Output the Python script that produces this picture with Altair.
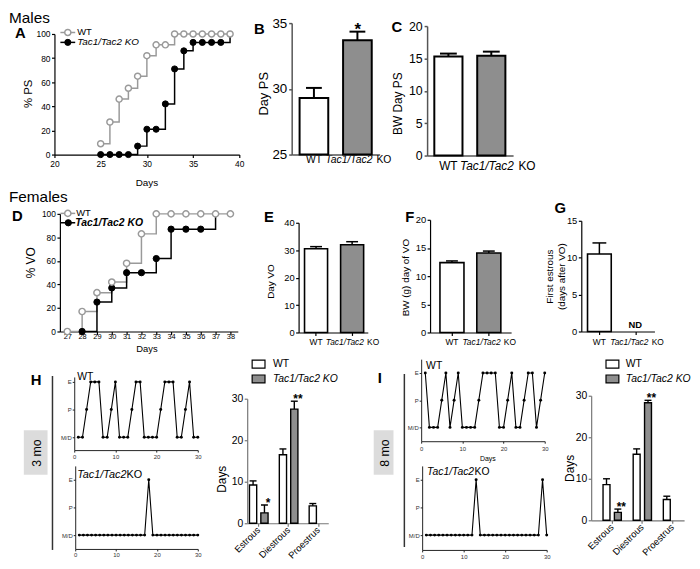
import altair as alt
import pandas as pd

W, H = 692, 561
def px(x): return x - 8
def py(y): return y - 8

FONT = "Liberation Sans"
BAR_GRAY = "#8e8e8e"
WT_LINE = "#9a9a9a"

# ---------------- data ----------------
GENO = ["WT", "KO"]
STAGES = ["Estrous", "Diestrous", "Proestrus"]
LEVEL = {"M": 0, "P": 1, "E": 2}

# A: % preputial separation (males)
A_wt_day = [25, 26, 27, 28, 29, 30, 31, 32, 33, 34, 35, 36, 37, 38, 39]
A_wt_pct = [9, 27, 46, 55, 65, 82, 91, 91, 100, 100, 100, 100, 100, 100, 100]
A_ko_day = [25, 26, 27, 28, 29, 30, 31, 32, 33, 34, 35, 36, 37, 38]
A_ko_pct = [0, 0, 0, 0, 7, 21, 21, 42, 71, 86, 93, 93, 93, 93]
A_ko_last = [39, 100]
# B, C
B_mean = [29.3, 33.7]; B_sem = [0.77, 0.65]; B_sig = ["", "*"]
C_mean = [15.3, 15.4]; C_sem = [0.45, 0.65]
# D: % vaginal opening (females)
D_wt_day = [27, 28, 29, 30, 31, 32, 33, 34, 35, 36, 37, 38]
D_wt_pct = [0, 17, 33, 42, 58, 83, 100, 100, 100, 100, 100, 100]
D_ko_day = [28, 29, 30, 31, 32, 33, 34, 35, 36]
D_ko_pct = [0, 25, 37, 50, 50, 62, 87, 87, 87]
D_ko_last = [37, 100]
# E, F, G
E_mean = [30.5, 32.0]; E_sem = [0.8, 1.1]
F_mean = [12.4, 14.1]; F_sem = [0.3, 0.35]
G_mean = [10.5]; G_sem = [1.5]; G_note = ["ND"]
# H, I: days in each stage
H_wt_mean = [9.2, 16.5, 4.2]; H_wt_sem = [1.0, 1.4, 0.55]
H_ko_mean = [2.5, 27.5]; H_ko_sem = [1.9, 1.9]; H_sig = ["*", "**"]
I_wt_mean = [8.6, 15.9, 5.0]; I_wt_sem = [1.4, 1.3, 0.8]
I_ko_mean = [1.9, 28.3]; I_ko_sem = [0.8, 0.6]; I_sig = ["**", "**"]
# representative cycles (M = metestrus/diestrus, P = proestrus, E = estrus)
H_wt_cycle = "MMPEEEMMPEMMMPEEMMMMPEEEMMPEMM"
H_ko_cycle = "MMMMMMMMMMMMMMMMMEMMMMMMMMMMMM"
I_wt_cycle = "EMMMPEMPEMMMMPEEEEMMPEMMPEEMPE"
I_ko_cycle = "MMMMMMMMMMMMEMMMMMMMMMMMMMMMEM"

FILL_SCALE = alt.Scale(domain=GENO, range=["white", BAR_GRAY])

# ---------------- helpers ----------------
def yax(pos, values=None, title=None, tx=0, ty=0, lsize=9, tsize=11, tick=4, pad=1,
        dw=1.2, color="black", lcolor="black", label_expr=None):
    kw = dict(orient="left", offset=-px(pos), grid=False, domainColor=color, domainWidth=dw,
              tickColor=color, tickWidth=dw, tickSize=tick, labelFont=FONT, labelFontSize=lsize,
              labelColor=lcolor, labelPadding=pad, labelFlush=False, labelOverlap=False)
    if values is not None:
        kw["values"] = values
    if label_expr:
        kw["labelExpr"] = label_expr
    if title:
        kw.update(title=title, titleFont=FONT, titleFontSize=tsize, titleFontWeight="normal",
                  titleColor="black", titleAngle=270, titleAlign="center", titleBaseline="middle",
                  titleX=tx - pos, titleY=py(ty))
    else:
        kw["title"] = None
    return alt.Axis(**kw)

def xax(pos, values=None, title=None, tx=0, ty=0, lsize=9, tsize=10, tick=3, pad=2,
        dw=1.2, color="black", lcolor="black", ticks=True, domain=True, **extra):
    kw = dict(orient="bottom", offset=py(pos) - H, grid=False, domain=domain, domainColor=color,
              domainWidth=dw, ticks=ticks, tickColor=color, tickWidth=dw, tickSize=tick,
              labelFont=FONT, labelFontSize=lsize, labelColor=lcolor, labelPadding=pad,
              labelFlush=False, labelOverlap=False, labelBaseline="middle", labelAngle=0)
    if values is not None:
        kw["values"] = values
    if title:
        kw.update(title=title, titleFont=FONT, titleFontSize=tsize, titleFontWeight="normal",
                  titleColor="black", titleAlign="center", titleBaseline="middle",
                  titleX=px(tx), titleY=ty - pos)
    else:
        kw["title"] = None
    kw.update(extra)
    return alt.Axis(**kw)

def qs(dom, r0, r1, vertical=False):
    f = py if vertical else px
    return alt.Scale(domain=dom, range=[f(r0), f(r1)], nice=False, zero=False)

def band(cats, axis_x, first_start, step, bw, end):
    p = 1 - bw / step
    n = len(cats)
    left = first_start - axis_x
    right = end - (first_start + step * (n - 1) + bw)
    o = (left + right) / (2 * step)
    al = left / (left + right) if (left + right) > 0 else 0.5
    return alt.Scale(domain=cats, range=[px(axis_x), px(end)], paddingInner=p,
                     paddingOuter=o, align=al)

ONE = pd.DataFrame({"k": [0]})

def label(txt, x, y, size=10, weight="normal", style="normal", angle=0, align="left",
          baseline="alphabetic", color="black"):
    return alt.Chart(ONE).mark_text(text=txt, font=FONT, fontSize=size, fontWeight=weight,
                                    fontStyle=style, angle=angle, align=align,
                                    baseline=baseline, color=color).encode(
        x=alt.value(px(x)), y=alt.value(py(y)))

def seg(x1, y1, x2, y2, color="black", width=1.5):
    return alt.Chart(ONE).mark_rule(color=color, strokeWidth=width).encode(
        x=alt.value(px(x1)), y=alt.value(py(y1)), x2=alt.value(px(x2)), y2=alt.value(py(y2)))

def dot(x, y, size, fill, stroke, sw=1.5):
    return alt.Chart(ONE).mark_point(shape="circle", filled=True, fill=fill, stroke=stroke,
                                     strokeWidth=sw, size=size, opacity=1).encode(
        x=alt.value(px(x)), y=alt.value(py(y)))

def box(x1, y1, x2, y2, fill, stroke="black", sw=1.2):
    return alt.Chart(ONE).mark_rect(fill=fill, stroke=stroke, strokeWidth=sw).encode(
        x=alt.value(px(x1)), y=alt.value(py(y1)), x2=alt.value(px(x2)), y2=alt.value(py(y2)))

def step_panel(wt_day, wt_pct, ko_day, ko_pct, ko_last, xs, ys, xa, ya, msize):
    wt = pd.DataFrame({"day": wt_day, "pct": wt_pct})
    ko = pd.DataFrame({"day": ko_day, "pct": ko_pct})
    ko_line = pd.concat([ko, pd.DataFrame({"day": [ko_last[0]], "pct": [ko_last[1]]})])
    def enc(axx=None, axy=None):
        return dict(x=alt.X("day:Q", scale=xs, axis=axx), y=alt.Y("pct:Q", scale=ys, axis=axy))
    l1 = alt.Chart(wt).mark_line(interpolate="step-after", color=WT_LINE, strokeWidth=1.5).encode(**enc(xa, ya))
    l2 = alt.Chart(ko_line).mark_line(interpolate="step-after", color="black", strokeWidth=1.5).encode(**enc())
    p2 = alt.Chart(ko).mark_point(shape="circle", filled=True, fill="black", stroke="black",
                                  strokeWidth=1, size=msize, opacity=1).encode(**enc())
    p1 = alt.Chart(wt).mark_point(shape="circle", filled=True, fill="white", stroke=WT_LINE,
                                  strokeWidth=1.5, size=msize, opacity=1).encode(**enc())
    return [l1, l2, p2, p1]

def ko_axes(pos, lsize, tick, pad, c_shift, color, dw, ticks=True, ko_extra=0):
    # "Tac1/Tac2" (italic) + "KO" (roman) under the KO bar
    em = lsize
    total = 6.45 * em
    start = c_shift - total / 2
    tac_off = start + 2.36 * em
    ko_off = start + total - 0.72 * em + ko_extra
    a1 = xax(pos, lsize=lsize, tick=tick, pad=pad, color=color, dw=dw, ticks=ticks,
             labelExpr="datum.value === 'KO' ? 'Tac1/Tac2' : 'WT'",
             labelFontStyle={"condition": {"test": "datum.value === 'KO'", "value": "italic"}, "value": "normal"},
             labelOffset={"condition": {"test": "datum.value === 'KO'", "value": tac_off}, "value": 0})
    a2 = xax(pos, lsize=lsize, tick=0, pad=pad + (tick if ticks else 0), color=color, dw=dw,
             ticks=False, domain=False,
             labelExpr="datum.value === 'KO' ? 'KO' : ''", labelOffset=ko_off)
    return a1, a2

def bar_panel(mean, sem, xs, ys, base, xa1, xa2, ya, bar_sw, cap_w, err_sw, sig=None,
              sig_size=16, sig_dy=2):
    n = len(mean)
    df = pd.DataFrame({"g": GENO[:n], "mean": mean, "sem": sem})
    out = []
    out.append(alt.Chart(df).mark_bar(stroke="black", strokeWidth=bar_sw).encode(
        x=alt.X("g:N", scale=xs, axis=xa1), y=alt.Y("mean:Q", scale=ys, axis=ya),
        y2=alt.datum(base), fill=alt.Fill("g:N", scale=FILL_SCALE, legend=None)))
    out.append(alt.Chart(df).transform_calculate(upper="datum.mean + datum.sem").mark_rule(
        color="black", strokeWidth=err_sw).encode(
        x=alt.X("g:N", scale=xs, axis=xa2), y=alt.Y("mean:Q", scale=ys, axis=None), y2="upper:Q"))
    out.append(alt.Chart(df).transform_calculate(upper="datum.mean + datum.sem").mark_tick(
        orient="horizontal", color="black", size=cap_w, thickness=err_sw, opacity=1).encode(
        x=alt.X("g:N", scale=xs, axis=None), y=alt.Y("upper:Q", scale=ys, axis=None)))
    if sig is not None:
        sdf = pd.DataFrame({"g": GENO[:n], "mean": mean, "sem": sem, "sig": sig})
        out.append(alt.Chart(sdf).transform_calculate(upper="datum.mean + datum.sem").mark_text(
            font=FONT, fontSize=sig_size, fontWeight="bold", baseline="alphabetic", dy=sig_dy,
            color="black").encode(
            x=alt.X("g:N", scale=xs, axis=None), y=alt.Y("upper:Q", scale=ys, axis=None),
            text="sig:N"))
    return out

def group_panel(wt_mean, wt_sem, ko_mean, ko_sem, sig, xs, xo, ys, xa, ya, sig_dy=1):
    nk = len(ko_mean)
    df = pd.DataFrame({"stage": STAGES + STAGES[:nk], "g": ["WT"] * 3 + ["KO"] * nk,
                       "mean": wt_mean + ko_mean, "sem": wt_sem + ko_sem})
    def X(axis=None):
        return alt.X("stage:N", scale=xs, axis=axis)
    XO = alt.XOffset("g:N", scale=xo)
    out = []
    out.append(alt.Chart(df).mark_bar(stroke="black", strokeWidth=1.4).encode(
        x=X(xa), xOffset=XO, y=alt.Y("mean:Q", scale=ys, axis=ya), y2=alt.datum(0),
        fill=alt.Fill("g:N", scale=FILL_SCALE, legend=None)))
    out.append(alt.Chart(df).transform_calculate(upper="datum.mean + datum.sem").mark_rule(
        color="black", strokeWidth=1.4).encode(
        x=X(), xOffset=XO, y=alt.Y("mean:Q", scale=ys, axis=None), y2="upper:Q"))
    out.append(alt.Chart(df).transform_calculate(upper="datum.mean + datum.sem").mark_tick(
        orient="horizontal", color="black", size=7, thickness=1.4, opacity=1).encode(
        x=X(), xOffset=XO, y=alt.Y("upper:Q", scale=ys, axis=None)))
    sdf = pd.DataFrame({"stage": STAGES[:nk], "g": ["KO"] * nk, "mean": ko_mean,
                        "sem": ko_sem, "sig": sig})
    out.append(alt.Chart(sdf).transform_calculate(upper="datum.mean + datum.sem").mark_text(
        font=FONT, fontSize=12, fontWeight="bold", baseline="alphabetic", dy=sig_dy,
        color="black").encode(
        x=X(), xOffset=XO, y=alt.Y("upper:Q", scale=ys, axis=None), text="sig:N"))
    return out

def seq_panel(codes, ax_x, x30, yE, yM, bottom, top, lab_pad, title=None, tx=0, ty=0):
    k = (yM - yE) / 2.0
    lo = -(bottom - yM) / k
    hi = 2 + (yE - top) / k
    df = pd.DataFrame({"day": list(range(1, len(codes) + 1)), "stage": [LEVEL[c] for c in codes]})
    xs = qs([0, 30], ax_x, x30)
    ys = qs([lo, hi], bottom, top, vertical=True)
    xa = xax(bottom, [0, 10, 20, 30], title, tx=tx, ty=ty, lsize=6, tsize=7, tick=2,
             pad=lab_pad, dw=1, color="#222", lcolor="#333")
    ya = yax(ax_x, [0, 1, 2], lsize=6, tick=2, pad=1, dw=1, color="#222", lcolor="#333",
             label_expr="datum.value == 2 ? 'E' : (datum.value == 1 ? 'P' : 'M/D')")
    line = alt.Chart(df).mark_line(color="black", strokeWidth=1.1).encode(
        x=alt.X("day:Q", scale=xs, axis=xa), y=alt.Y("stage:Q", scale=ys, axis=ya))
    pts = alt.Chart(df).mark_circle(color="black", size=9, opacity=1).encode(
        x=alt.X("day:Q", scale=xs, axis=None), y=alt.Y("stage:Q", scale=ys, axis=None))
    return [line, pts]

layers = []

# ---------------- Panel A ----------------
layers += step_panel(
    A_wt_day, A_wt_pct, A_ko_day, A_ko_pct, A_ko_last,
    qs([20, 40], 55, 242), qs([0, 100], 153, 31, vertical=True),
    xax(153, [20, 25, 30, 35, 40], "Days", tx=148, ty=181, lsize=8.5, tsize=10, tick=3, pad=6.5),
    yax(55, [0, 20, 40, 60, 80, 100], "% PS", tx=29, ty=91, lsize=8.5, tsize=11.5, tick=3, pad=1.5),
    38)

# ---------------- Panel B ----------------
bx = band(GENO, 295, 303, 44, 29, 384)
b1, b2 = ko_axes(153, 10.5, 0, 5, 0.5, "#555", 1.5, ticks=False)
layers += bar_panel(B_mean, B_sem, bx, qs([25, 35], 153, 20, vertical=True), 25, b1, b2,
                    yax(295, [25, 30, 35], "Day PS", tx=267, ty=91, lsize=13.5, tsize=13,
                        tick=3, pad=2, dw=1.5, color="#555"),
                    2, 16, 2, sig=B_sig, sig_size=17, sig_dy=3)

# ---------------- Panel C ----------------
cx = band(GENO, 432, 439.3, 43.4, 28.5, 519)
c1, c2 = ko_axes(154, 12, 0, 10, 6, "#555", 1.5, ticks=False)
layers += bar_panel(C_mean, C_sem, cx, qs([0, 20], 154, 23, vertical=True), 0, c1, c2,
                    yax(432, [0, 5, 10, 15, 20], "BW Day PS", tx=402, ty=101, lsize=12.5,
                        tsize=12, tick=3, pad=2, dw=1.5, color="#555"),
                    2, 17, 2)

# ---------------- Panel D ----------------
layers += step_panel(
    D_wt_day, D_wt_pct, D_ko_day, D_ko_pct, D_ko_last,
    qs([26.5, 38.5], 60.5, 240.5), qs([0, 100], 332, 213, vertical=True),
    xax(332, list(range(27, 39)), "Days", tx=148, ty=349, lsize=7.5, tsize=9.5, tick=3, pad=2.5),
    yax(60.5, [0, 20, 40, 60, 80, 100], "% VO", tx=31, ty=262, lsize=8.5, tsize=12, tick=3, pad=1.5),
    40)

# ---------------- Panel E ----------------
ex = band(GENO, 302, 308, 36.5, 23.3, 372)
e1, e2 = ko_axes(333, 8.5, 3, 6, 0, "black", 1.2)
layers += bar_panel(E_mean, E_sem, ex, qs([0, 40], 333, 222, vertical=True), 0, e1, e2,
                    yax(302, [0, 10, 20, 30, 40], "Day VO", tx=274, ty=281, lsize=9.5,
                        tsize=10, tick=3, pad=1.5),
                    1.6, 12, 1.5)

# ---------------- Panel F ----------------
fx = band(GENO, 435, 445, 37.3, 24.3, 517)
f1, f2 = ko_axes(333, 8.5, 3, 6, 0, "black", 1.2)
layers += bar_panel(F_mean, F_sem, fx, qs([0, 20], 333, 219, vertical=True), 0, f1, f2,
                    yax(435, [0, 5, 10, 15, 20], "BW (g) day of VO", tx=410, ty=277,
                        lsize=9.5, tsize=10, tick=3, pad=1.5),
                    1.6, 12, 1.5)

# ---------------- Panel G ----------------
gx = band(GENO, 588, 594.3, 36.7, 24, 662)
g1, g2 = ko_axes(332, 8.5, 3, 7, 1, "black", 1.2)
gy = qs([0, 15], 332, 220, vertical=True)
layers += bar_panel(G_mean, G_sem, gx, gy, 0, g1, g2,
                    yax(588, [0, 5, 10, 15], ["First estrous", "(days after VO)"], tx=556,
                        ty=276, lsize=9.5, tsize=10, tick=3, pad=1.5),
                    1.6, 14, 1.5)
layers.append(alt.Chart(pd.DataFrame({"g": ["KO"], "note": G_note})).mark_text(
    font=FONT, fontSize=9.5, fontWeight="bold", baseline="alphabetic", dy=-3.5,
    color="black").encode(x=alt.X("g:N", scale=gx, axis=None),
                          y=alt.YDatum(0, scale=gy, axis=None), text="note:N"))

# ---------------- Panel H ----------------
layers += seq_panel(H_wt_cycle, 75, 200, 383, 439, 452, 378, 4)
layers += seq_panel(H_ko_cycle, 76, 200, 482, 538, 552, 468, 4)
hx = band(STAGES, 250, 252.3, 30.2, 18.8, 332)
hxo = alt.Scale(domain=GENO, paddingInner=0.365, paddingOuter=0)
layers += group_panel(H_wt_mean, H_wt_sem, H_ko_mean, H_ko_sem, H_sig, hx, hxo,
                      qs([0, 30], 526, 400, vertical=True),
                      xax(526, None, lsize=9.5, tick=3, pad=2, color="#777", dw=1.2,
                          labelAngle=-45, labelAlign="right"),
                      yax(250, [0, 10, 20, 30], "Days", tx=224, ty=481, lsize=10.5,
                          tsize=12, tick=3, pad=1.5, color="#777"), sig_dy=2)

# ---------------- Panel I ----------------
layers += seq_panel(I_wt_cycle, 426, 551, 374, 429, 443, 360, 5, title="Days", tx=493, ty=461)
layers += seq_panel(I_ko_cycle, 427, 553, 482, 538, 553, 468, 5)
ix = band(STAGES, 598, 610, 30.5, 18.5, 692)
ixo = alt.Scale(domain=GENO, paddingInner=0.39, paddingOuter=0)
layers += group_panel(I_wt_mean, I_wt_sem, I_ko_mean, I_ko_sem, I_sig, ix, ixo,
                      qs([0, 30], 523, 397, vertical=True),
                      xax(523, None, lsize=9.5, tick=3, pad=2, color="#777", dw=1.2,
                          labelAngle=-45, labelAlign="right"),
                      yax(598, [0, 10, 20, 30], "Days", tx=576, ty=470, lsize=10.5,
                          tsize=12, tick=3, pad=1.5, color="#777"), sig_dy=2)

# ---------------- annotations ----------------
layers += [
    label("Males", 9, 20, size=15.5),
    label("Females", 9, 201, size=15.5),
    label("A", 15, 35, size=15, weight="bold"),
    label("B", 257, 31, size=15, weight="bold"),
    label("C", 396, 29, size=15, weight="bold"),
    label("D", 12, 220, size=15, weight="bold"),
    label("E", 267, 221, size=15, weight="bold"),
    label("F", 410, 221, size=15, weight="bold"),
    label("G", 561, 212, size=15, weight="bold"),
    label("H", 31, 386, size=15, weight="bold"),
    label("I", 382, 384, size=15, weight="bold"),
    # legend A
    seg(61, 29.5, 76, 29.5, WT_LINE, 1.5), dot(68.5, 29.5, 38, "white", WT_LINE),
    label("WT", 78, 29.5, size=9.5, baseline="middle"),
    seg(61, 39.5, 76, 39.5, "black", 1.5), dot(68.5, 39.5, 38, "black", "black", 1),
    label("Tac1/Tac2 KO", 78, 39.5, size=10, style="italic", baseline="middle"),
    # legend D
    seg(61, 212.5, 76, 212.5, WT_LINE, 1.5), dot(68.5, 212.5, 40, "white", WT_LINE),
    label("WT", 77, 212.5, size=9.5, baseline="middle"),
    seg(61, 222, 76, 222, "black", 1.5), dot(69, 222, 40, "black", "black", 1),
    label("Tac1/Tac2 KO", 76, 222.5, size=10.5, weight="bold", style="italic", baseline="middle"),
    # H / I frame
    seg(53, 377, 53, 553, "#333", 1.5),
    seg(409, 375, 409, 550, "#333", 1.5),
    box(24, 432, 48, 477, "#dcdcdc", stroke="#dcdcdc", sw=0),
    label("3 mo", 37, 455, size=12.5, angle=270, align="center", baseline="middle"),
    box(378, 432, 398, 477, "#dcdcdc", stroke="#dcdcdc", sw=0),
    label("8 mo", 389, 455, size=12.5, angle=270, align="center", baseline="middle"),
    label("WT", 78, 381, size=10.5),
    label("Tac1/Tac2", 78, 480, size=11, style="italic"),
    label("KO", 128, 480, size=11),
    label("WT", 431, 370, size=10.5),
    label("Tac1/Tac2", 432, 477, size=10.5, style="italic"),
    label("KO", 480, 477, size=10.5),
    # legend H
    box(255, 361, 268, 369, "white"), label("WT", 276, 365, size=10.5, baseline="middle"),
    box(255, 376, 268, 384, BAR_GRAY), label("Tac1/Tac2 KO", 276, 380, size=10.5, style="italic", baseline="middle"),
    # legend I
    box(613, 361, 626, 369, "white"), label("WT", 633, 365, size=10.5, baseline="middle"),
    box(613, 376, 626, 384, BAR_GRAY), label("Tac1/Tac2 KO", 633, 380, size=10.5, style="italic", baseline="middle"),
]

chart = alt.layer(*layers).resolve_scale(
    x="independent", y="independent", fill="independent", xOffset="independent"
).resolve_axis(x="independent", y="independent").properties(
    width=W, height=H, autosize=alt.AutoSizeParams(type="none"), padding=0
).configure_view(stroke=None)

chart.save("out.html", embed_options={"renderer": "svg", "actions": False})
